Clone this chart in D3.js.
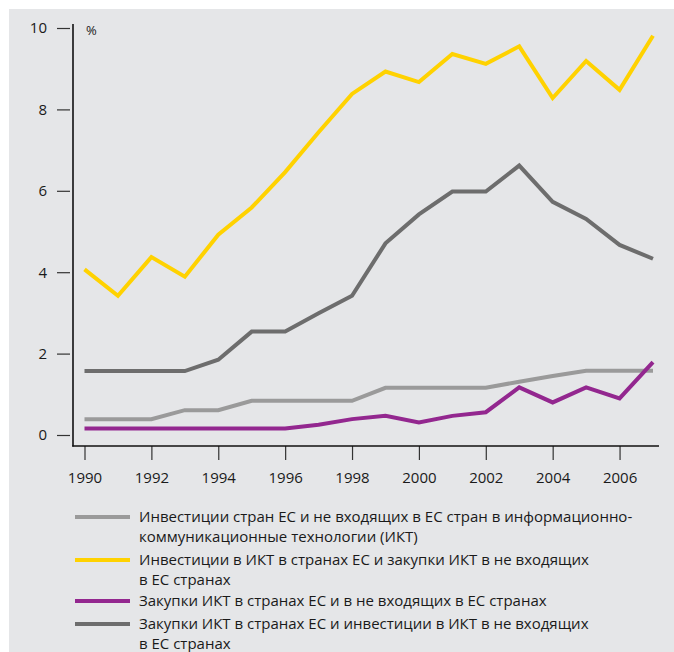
<!DOCTYPE html>
<html>
<head>
<meta charset="utf-8">
<script src="https://cdn.jsdelivr.net/npm/d3@7"></script>
<style>
html, body { margin: 0; padding: 0; background: #ffffff; }
svg { display: block; }
text { font-family: "Open Sans", "DejaVu Sans", sans-serif; fill: #1a1a1a; }
</style>
</head>
<body>
<svg id="chart" width="674" height="652"></svg>
<script>
const years = [1990,1991,1992,1993,1994,1995,1996,1997,1998,1999,2000,2001,2002,2003,2004,2005,2006,2007];
const tickYears = [1990,1992,1994,1996,1998,2000,2002,2004,2006];
const yTicks = [0,2,4,6,8,10];

const lightGray = [0.39,0.39,0.39,0.61,0.61,0.84,0.84,0.84,0.84,1.16,1.16,1.16,1.16,1.31,1.45,1.58,1.58,1.58];
const yellow    = [4.07,3.42,4.37,3.89,4.92,5.59,6.46,7.44,8.38,8.93,8.67,9.36,9.12,9.55,8.28,9.19,8.48,9.81];
const purple    = [0.16,0.16,0.16,0.16,0.16,0.16,0.16,0.25,0.39,0.47,0.31,0.47,0.56,1.17,0.80,1.17,0.90,1.79];
const darkGray  = [1.57,1.57,1.57,1.57,1.85,2.54,2.54,2.99,3.42,4.71,5.42,5.98,5.98,6.62,5.73,5.31,4.67,4.33];

const seriesNames = [
  ["Инвестиции стран ЕС и не входящих в ЕС стран в информационно-", "коммуникационные технологии (ИКТ)"],
  ["Инвестиции в ИКТ в странах ЕС и закупки ИКТ в не входящих", "в ЕС странах"],
  ["Закупки ИКТ в странах ЕС и в не входящих в ЕС странах"],
  ["Закупки ИКТ в странах ЕС и инвестиции в ИКТ в не входящих", "в ЕС странах"]
];
const seriesValues = [lightGray, yellow, purple, darkGray];
const seriesColors = ["#9a9a9a", "#ffd200", "#93278f", "#6d6d6d"];
const drawOrder = [0, 3, 2, 1];

const svg = d3.select("#chart");
svg.append("rect").attr("x", 9).attr("y", 9).attr("width", 665).attr("height", 643).attr("fill", "#e5e6e8");

const x = d3.scaleLinear().domain([1990, 2007]).range([84.5, 653]);
const y = d3.scaleLinear().domain([0, 10]).range([435, 28]);

// Y axis
const yAxis = d3.axisLeft(y).tickValues(yTicks).tickSizeInner(13).tickSizeOuter(0).tickPadding(10);
const gy = svg.append("g").attr("transform", "translate(70,0)").call(yAxis);
gy.select(".domain").remove();
gy.selectAll(".tick line").attr("stroke", "#333").attr("stroke-width", 1.2);
gy.selectAll(".tick text").attr("font-size", 15).attr("fill", "#1a1a1a").style("font-family", "'Open Sans', sans-serif");
svg.append("line").attr("x1", 73).attr("x2", 73).attr("y1", 24).attr("y2", 446.5).attr("stroke", "#111").attr("stroke-width", 1.6);

// X axis
const xAxis = d3.axisBottom(x).tickValues(tickYears).tickFormat(d3.format("d")).tickSizeInner(14).tickSizeOuter(0).tickPadding(12);
const gx = svg.append("g").attr("transform", "translate(0,446)").call(xAxis);
gx.select(".domain").remove();
gx.selectAll(".tick line").attr("stroke", "#333").attr("stroke-width", 1.2);
gx.selectAll(".tick text").attr("font-size", 15).attr("fill", "#1a1a1a").style("font-family", "'Open Sans', sans-serif");
svg.append("line").attr("x1", 72.2).attr("x2", 659).attr("y1", 446).attr("y2", 446).attr("stroke", "#111").attr("stroke-width", 1.6);

svg.append("text").attr("x", 86).attr("y", 35).attr("font-size", 13).text("%");

// Lines
const line = d3.line().x((d, i) => x(years[i])).y(d => y(d));
drawOrder.forEach(k => {
  svg.append("path").datum(seriesValues[k])
    .attr("d", line)
    .attr("fill", "none")
    .attr("stroke", seriesColors[k])
    .attr("stroke-width", 4)
    .attr("stroke-linejoin", "miter");
});

// Legend
const legendY = [517, 560, 601, 624];
const lineH = 19.5;
seriesNames.forEach((lines, k) => {
  const g = svg.append("g").attr("transform", `translate(0,${legendY[k]})`);
  g.append("line").attr("x1", 75).attr("x2", 130).attr("y1", 0).attr("y2", 0)
    .attr("stroke", seriesColors[k]).attr("stroke-width", 4);
  lines.forEach((t, j) => {
    g.append("text").attr("x", 139).attr("y", j * lineH).attr("dy", "0.35em")
      .attr("font-size", 15).text(t);
  });
});
</script>
</body>
</html>
